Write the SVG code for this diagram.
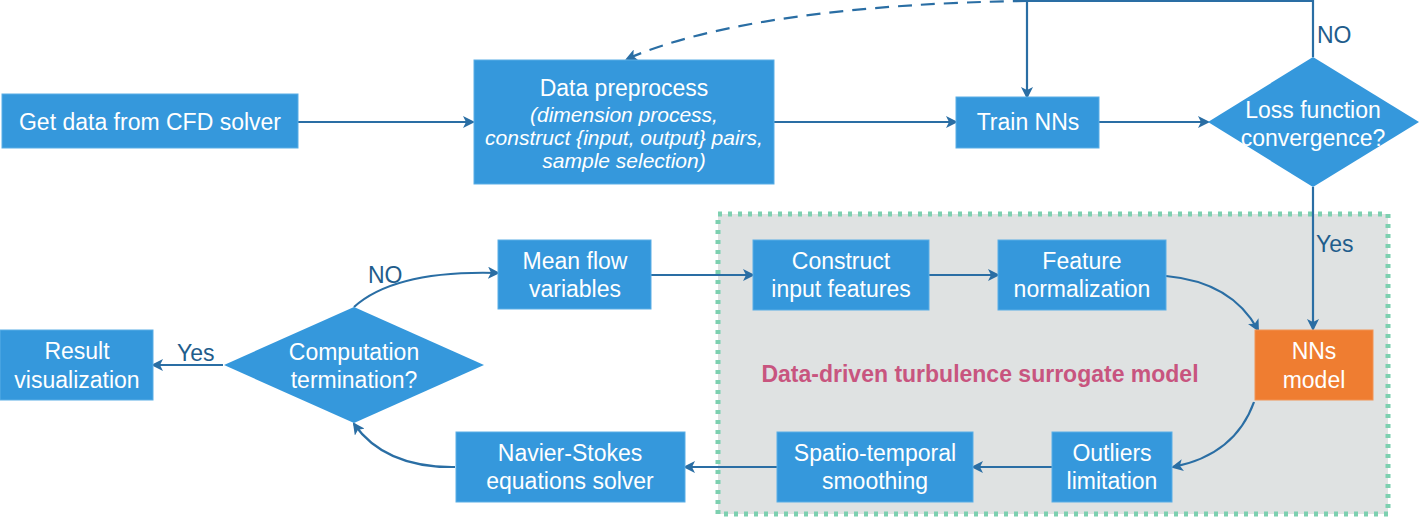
<svg xmlns="http://www.w3.org/2000/svg" width="1419" height="519" viewBox="0 0 1419 519">
<defs>
<marker id="ah" viewBox="0 0 12 12" refX="10" refY="6" markerWidth="12" markerHeight="12" markerUnits="userSpaceOnUse" orient="auto">
<path d="M0,0 L12,6 L0,12 L3,6 z" fill="#2a6ea4"/>
</marker>
<style>
.box{fill:#3598dc;stroke:#5aaee6;stroke-width:1}
.orange{fill:#ef7d31;stroke:#f29455;stroke-width:1}
.t{font-family:"Liberation Sans",Arial,sans-serif;font-size:23px;fill:#fff;text-anchor:middle}
.it{font-family:"Liberation Sans",Arial,sans-serif;font-size:21px;font-style:italic;fill:#fff;text-anchor:middle}
.lbl{font-family:"Liberation Sans",Arial,sans-serif;font-size:23px;fill:#1f5d8c}
.c{fill:none;stroke:#2a6ea4;stroke-width:2.2}
.arr{marker-end:url(#ah)}
</style>
</defs>
<rect width="1419" height="519" fill="#fff"/>
<g id="region">
<rect x="718" y="214" width="670" height="300" fill="#dfe2e2" stroke="#7dd0b0" stroke-width="5" stroke-dasharray="4 6"/>
<text x="980" y="382" font-family="Liberation Sans,Arial,sans-serif" font-size="23" font-weight="bold" fill="#c8557f" text-anchor="middle">Data-driven turbulence surrogate model</text>
</g>
<g id="connectors">
<path class="c arr" d="M298,122 L473,122"/>
<path class="c arr" d="M774,122 L956,122"/>
<path class="c arr" d="M1099,122 L1208,122"/>
<path class="c" d="M1313,57 L1313,1 L1027,1"/>
<path class="c arr" d="M1027,1 L1027,97"/>
<path class="c arr" d="M1027,1 C860,3 710,22 627,59" stroke-dasharray="14 9"/>
<path class="c arr" d="M1313,187 L1313,329"/>
<path class="c arr" d="M651,275 L753,275"/>
<path class="c arr" d="M929,275 L998,275"/>
<path class="c arr" d="M1166,276 Q1232,282 1258,330"/>
<path class="c arr" d="M1254,402 Q1235,455 1173,467"/>
<path class="c arr" d="M1052,467 L973,467"/>
<path class="c arr" d="M777,467 L685,467"/>
<path class="c arr" d="M455,467 Q385,468 354,424"/>
<path class="c arr" d="M354,307 Q395,270 498,273"/>
<path class="c arr" d="M223,365 L153,365"/>
<text class="lbl" x="1317" y="43">NO</text>
<text class="lbl" x="1316" y="252">Yes</text>
<text class="lbl" x="368" y="283">NO</text>
<text class="lbl" x="177" y="361">Yes</text>
</g>
<g id="get-data">
<rect class="box" x="2" y="94" width="296" height="54"/>
<text class="t" x="150" y="130">Get data from CFD solver</text>
</g>
<g id="data-preprocess">
<rect class="box" x="474" y="60" width="300" height="124"/>
<text class="t" x="624" y="96">Data preprocess</text>
<text class="it" x="624" y="122">(dimension process,</text>
<text class="it" x="624" y="145">construct {input, output} pairs,</text>
<text class="it" x="624" y="168">sample selection)</text>
</g>
<g id="train-nns">
<rect class="box" x="956" y="97" width="143" height="51"/>
<text class="t" x="1028" y="130">Train NNs</text>
</g>
<g id="loss-convergence">
<polygon points="1313,57 1419,122 1313,187 1208,122" fill="#3598dc"/>
<text class="t" x="1313" y="118">Loss function</text>
<text class="t" x="1313" y="146">convergence?</text>
</g>
<g id="mean-flow">
<rect class="box" x="498" y="240" width="153" height="69"/>
<text class="t" x="575" y="269">Mean flow</text>
<text class="t" x="575" y="297">variables</text>
</g>
<g id="construct-features">
<rect class="box" x="753" y="240" width="176" height="70"/>
<text class="t" x="841" y="269">Construct</text>
<text class="t" x="841" y="297">input features</text>
</g>
<g id="feature-normalization">
<rect class="box" x="998" y="240" width="168" height="70"/>
<text class="t" x="1082" y="269">Feature</text>
<text class="t" x="1082" y="297">normalization</text>
</g>
<g id="nns-model">
<rect class="orange" x="1255" y="330" width="118" height="70"/>
<text class="t" x="1314" y="359">NNs</text>
<text class="t" x="1314" y="388">model</text>
</g>
<g id="outliers">
<rect class="box" x="1052" y="432" width="120" height="70"/>
<text class="t" x="1112" y="461">Outliers</text>
<text class="t" x="1112" y="489">limitation</text>
</g>
<g id="smoothing">
<rect class="box" x="777" y="432" width="196" height="70"/>
<text class="t" x="875" y="461">Spatio-temporal</text>
<text class="t" x="875" y="489">smoothing</text>
</g>
<g id="navier-stokes">
<rect class="box" x="456" y="432" width="229" height="70"/>
<text class="t" x="570" y="461">Navier-Stokes</text>
<text class="t" x="570" y="489">equations solver</text>
</g>
<g id="computation-termination">
<polygon points="354,307 484,365 354,423 224,365" fill="#3598dc"/>
<text class="t" x="354" y="360">Computation</text>
<text class="t" x="354" y="388">termination?</text>
</g>
<g id="result-visualization">
<rect class="box" x="0" y="330" width="153" height="70"/>
<text class="t" x="77" y="359">Result</text>
<text class="t" x="77" y="388">visualization</text>
</g>
</svg>
